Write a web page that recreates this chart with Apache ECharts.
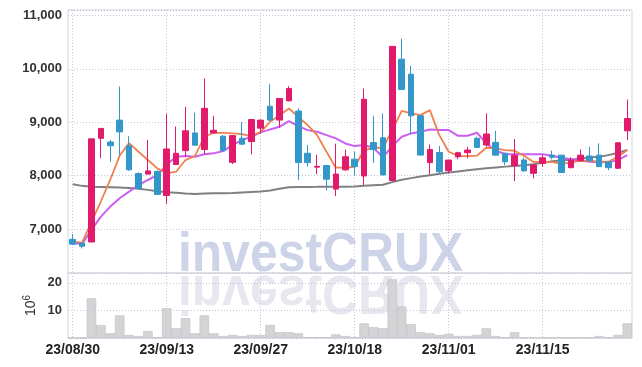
<!DOCTYPE html>
<html>
<head>
<meta charset="utf-8">
<script src="https://cdn.jsdelivr.net/npm/echarts@6/dist/echarts.min.js"></script>
<style>
	html, body { margin: 0; padding: 0; background: #fff; }
	#chart { width: 642px; height: 367px; }
</style>
</head>
<body>
<div id="chart"></div>
<script>
// trading days
var dates = [
	'23/08/30','23/08/31','23/09/01','23/09/04','23/09/05','23/09/06','23/09/07','23/09/08','23/09/11','23/09/12',
	'23/09/13','23/09/14','23/09/15','23/09/18','23/09/19','23/09/20','23/09/21','23/09/22','23/09/25','23/09/26',
	'23/09/27','23/10/04','23/10/05','23/10/06','23/10/10','23/10/11','23/10/12','23/10/13','23/10/16','23/10/17',
	'23/10/18','23/10/19','23/10/20','23/10/23','23/10/24','23/10/25','23/10/26','23/10/27','23/10/30','23/10/31',
	'23/11/01','23/11/02','23/11/03','23/11/06','23/11/07','23/11/08','23/11/09','23/11/10','23/11/13','23/11/14',
	'23/11/15','23/11/16','23/11/17','23/11/20','23/11/21','23/11/22','23/11/23','23/11/24','23/11/27','23/11/28'
];
var openVals = [
	6810,6740,6760,8700,8630,9040,8560,8040,8030,8080,
	7630,8210,8470,8800,8490,8800,8740,8250,8700,8640,
	8890,9300,9040,9400,9210,8420,8160,8190,7750,8110,
	8310,7995,8620,8710,7910,10180,9900,9120,8245,8435,
	8094,8355,8430,8700,8575,8625,8420,8190,8295,8045,
	8230,8385,8385,8150,8280,8370,8385,8260,8140,8840
];
var closeVals = [
	6720,6680,8690,8885,8560,8820,8110,7760,8090,7650,
	8500,8420,8840,8570,9260,8850,8470,8750,8590,9050,
	9040,9040,9445,9630,8245,8245,8175,7935,8030,8355,
	8170,9430,8490,8015,10420,9615,9120,8386,8490,8075,
	8293,8430,8480,8530,8780,8385,8260,8385,8090,8200,
	8335,8345,8060,8295,8385,8280,8170,8150,8615,9070
];
var lowVals = [
	6700,6640,6760,8330,8260,8380,8090,7750,8030,7640,
	7470,8200,8350,8560,8400,8790,8450,8220,8580,8400,
	8790,9020,8900,9390,7920,8170,8030,7730,7620,8090,
	8010,7825,8240,8010,7900,9600,8775,8380,8030,8030,
	8040,8310,8325,8520,8540,8380,8200,7900,8080,7950,
	8168,8305,8050,8140,8270,8270,8160,8105,8125,8665
];
var highVals = [
	6910,6745,8690,8890,8670,9670,8740,8060,8670,8100,
	9160,8920,9290,9180,9820,9120,8760,8760,9000,9060,
	9050,9710,9450,9675,9260,8575,8390,8200,8600,8490,
	8450,9630,9120,9165,10425,10565,10055,9130,8585,8555,
	8300,8450,8540,8730,9165,8840,8430,8685,8340,8210,
	8386,8470,8390,8345,8490,8540,8605,8270,8630,9425
];
var maShort = [
	6768,6750,7135,7522,7925,8377,8610,8448,8293,8138,
	8045,8075,8293,8368,8728,8803,8803,8791,8778,8741,
	8822,9008,9133,9258,9102,8946,8760,8448,8150,8150,
	8168,8480,8523,8523,8853,9214,9165,9133,9227,8760,
	8448,8368,8368,8374,8523,8511,8480,8467,8374,8261,
	8250,8261,8218,8250,8280,8280,8261,8261,8355,8480
];
var maMid = [
	6738,6725,6986,7235,7422,7578,7702,7826,7920,8010,
	8210,8355,8368,8355,8400,8418,8461,8573,8666,8728,
	8810,8866,8915,9021,8927,8853,8822,8760,8698,8604,
	8554,8573,8523,8343,8554,8728,8791,8822,8866,8853,
	8853,8747,8747,8803,8604,8467,8405,8400,8400,8400,
	8400,8374,8336,8306,8280,8261,8250,8250,8293,8386
];
var maLong = [
	7840,7810,7795,7790,7785,7780,7770,7755,7735,7710,
	7690,7680,7665,7658,7665,7670,7670,7675,7685,7695,
	7705,7725,7755,7783,7790,7790,7792,7795,7795,7795,
	7798,7810,7820,7830,7880,7925,7955,7985,8010,8035,
	8060,8080,8100,8120,8140,8155,8170,8180,8195,8215,
	8240,8270,8285,8300,8320,8340,8355,8385,8430,8480
];
// volume, millions
var volumes = [
	0,0,14.4,4.7,1.7,8.2,1.1,0.7,2.5,0.3,
	10.8,3.5,7.2,1.7,8.2,1.7,0.7,1.1,0.7,1.1,
	1.1,4.7,2.1,2.1,1.7,0.3,0.3,0.3,1.3,0.7,
	0.3,5.3,3.9,3.5,21.3,11.4,5.0,2.1,1.7,1.1,
	1.5,0.7,0.7,1.1,3.5,0.7,0.3,2.1,0.2,0.2,
	0.2,0.2,0.2,0.2,0.2,0.2,0.7,0.3,1.1,5.3
];

var upColor = '#e11a6b',
	downColor = '#3497c9',
	gridLineColor = '#c3c7dc',
	frameColor = '#d3d3dc',
	labelFont = "'Liberation Sans', 'Roboto', sans-serif";

var candleData = dates.map(function(d, i){
	return [openVals[i], closeVals[i], lowVals[i], highVals[i]];
});

function fmtThousand(v){
	return String(v).replace(/\B(?=(\d{3})+(?!\d))/g, ',');
}

var chart = echarts.init(document.getElementById('chart'));

var option = {
	animation: false,
	backgroundColor: '#fff',
	grid: [
		{ left: 68, right: 10, top: 10, height: 263, show: true, borderColor: frameColor, borderWidth: 1 },
		{ left: 68, right: 10, top: 273, height: 65, show: true, borderColor: frameColor, borderWidth: 1 }
	],
	xAxis: [
		{
			type: 'category', gridIndex: 0, data: dates, boundaryGap: true,
			axisLine: { show: false }, axisTick: { show: false }, axisLabel: { show: false },
			splitLine: { show: true, interval: 9, alignWithLabel: true, lineStyle: { color: gridLineColor, type: [1, 2] } }
		},
		{
			type: 'category', gridIndex: 1, data: dates, boundaryGap: true,
			axisLine: { show: false }, axisTick: { show: false },
			axisLabel: {
				interval: 9, margin: 5, color: '#222', fontSize: 14, fontWeight: 'bold', fontFamily: labelFont
			},
			splitLine: { show: true, interval: 9, alignWithLabel: true, lineStyle: { color: gridLineColor, type: [1, 2] } }
		}
	],
	yAxis: [
		{
			type: 'value', gridIndex: 0, min: 6180, max: 11100, scale: true,
			axisLine: { show: false }, axisTick: { show: false },
			axisLabel: {
				margin: 6, color: '#333', fontSize: 13, fontWeight: 'bold', fontFamily: labelFont,
				formatter: function(v){ return v % 1000 === 0 ? fmtThousand(v) : ''; }
			},
			splitLine: { lineStyle: { color: gridLineColor, type: [1, 2] } }
		},
		{
			type: 'value', gridIndex: 1, min: 0, max: 23.6, interval: 10,
			axisLine: { show: false }, axisTick: { show: false },
			name: '{b|10}{s|6}', nameLocation: 'middle', nameRotate: 90, nameGap: 28, nameMoveOverlap: false,
			nameTextStyle: {
				rich: {
					b: { fontSize: 14, color: '#333', fontFamily: labelFont },
					s: { fontSize: 10, color: '#333', fontFamily: labelFont, verticalAlign: 'top', padding: [0, 0, 8, 0] }
				}
			},
			axisLabel: {
				margin: 6, color: '#333', fontSize: 13, fontWeight: 'bold', fontFamily: labelFont,
				formatter: function(v){ return (v === 10 || v === 20) ? String(v) : ''; }
			},
			splitLine: { lineStyle: { color: gridLineColor, type: [1, 2] } }
		}
	],
	graphic: [
		{
			type: 'text', x: 178, y: 256, scaleX: 0.89, z: 0, silent: true,
			style: { text: 'investCRUX', font: 'bold 56px "Liberation Sans", sans-serif', fill: '#ced4e8', verticalAlign: 'middle' }
		},
		{
			type: 'text', x: 178, y: 291, scaleX: 0.89, scaleY: -1, z: 0, silent: true,
			style: { text: 'investCRUX', font: 'bold 56px "Liberation Sans", sans-serif', fill: '#e8e7f0', verticalAlign: 'middle' }
		}
	],
	series: [
		{
			name: 'price', type: 'candlestick', xAxisIndex: 0, yAxisIndex: 0,
			data: candleData, barWidth: 6, z: 5,
			itemStyle: { color: upColor, color0: downColor, borderColor: upColor, borderColor0: downColor, borderWidth: 1 }
		},
		{
			name: 'ma long', type: 'line', xAxisIndex: 0, yAxisIndex: 0, data: maLong,
			symbol: 'none', z: 4, lineStyle: { color: '#808080', width: 2 }
		},
		{
			name: 'ma mid', type: 'line', xAxisIndex: 0, yAxisIndex: 0, data: maMid,
			symbol: 'none', z: 4, lineStyle: { color: '#cc5ef0', width: 2 }
		},
		{
			name: 'ma short', type: 'line', xAxisIndex: 0, yAxisIndex: 0, data: maShort,
			symbol: 'none', z: 4, lineStyle: { color: '#ef8150', width: 1.8 }
		},
		{
			name: 'volume', type: 'bar', xAxisIndex: 1, yAxisIndex: 1, data: volumes,
			barWidth: '100%', z: 3,
			itemStyle: { color: 'rgba(205,205,208,0.85)', borderColor: '#bdbdc2', borderWidth: 0.6 }
		}
	]
};

chart.setOption(option);
</script>
</body>
</html>
